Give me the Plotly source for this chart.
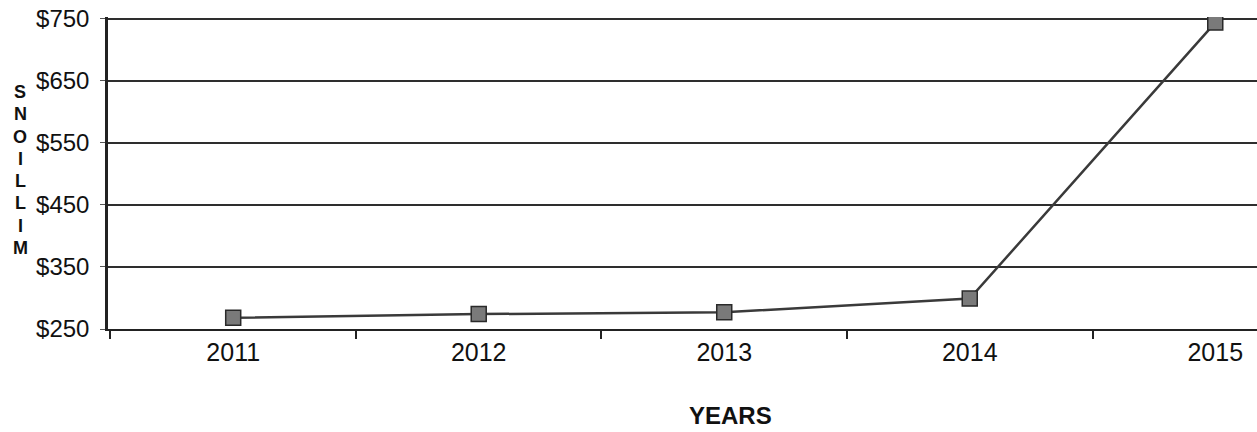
import plotly.graph_objects as go

years = ["2011", "2012", "2013", "2014", "2015"]
values = [268, 274, 277, 299, 744]
y_ticks = [250, 350, 450, 550, 650, 750]
y_tick_labels = ["$250", "$350", "$450", "$550", "$650", "$750"]
x_title = "YEARS"
y_title = "MILLIONS"

fig = go.Figure()
fig.add_trace(go.Scatter(
    x=years, y=values, mode="lines+markers",
    line=dict(color="#3a3a3a", width=2.5),
    marker=dict(symbol="square", size=15, color="#7a7a7a",
                line=dict(color="#2a2a2a", width=1.5)),
    showlegend=False,
))

font_family = "Liberation Sans, Arial, sans-serif"

fig.update_layout(
    width=1257, height=432,
    margin=dict(l=108, r=0, t=17, b=103),
    paper_bgcolor="white", plot_bgcolor="white",
    font=dict(family=font_family, color="#111"),
    xaxis=dict(
        type="category", range=[-0.51, 4.17],
        showgrid=False, showline=True, linecolor="#222", linewidth=2,
        ticks="outside", tickson="boundaries", ticklen=8, tickwidth=1.5,
        tickcolor="#222", tickfont=dict(size=25, color="#111"),
        zeroline=False,
    ),
    yaxis=dict(
        range=[250, 753], tickvals=y_ticks, ticktext=y_tick_labels,
        showgrid=True, gridcolor="#2e2e2e", gridwidth=2,
        showline=True, linecolor="#222", linewidth=2.5,
        ticks="outside", ticklen=5, tickcolor="#555",
        ticklabelstandoff=6,
        tickfont=dict(size=24, color="#111"),
        zeroline=False,
    ),
)

fig.add_annotation(
    text=f"<b>{x_title}</b>", xref="paper", yref="paper",
    x=(730 - 108) / 1149, y=0, yshift=-86, xanchor="center", yanchor="middle",
    showarrow=False, font=dict(size=24, color="#111", family=font_family),
)

# stacked vertical letters of the y-axis title, read bottom to top
n = len(y_title)
top_px, bottom_px = 92, 248
plot_top, plot_h = 17, 312
for i, ch in enumerate(reversed(y_title)):
    py = top_px + (bottom_px - top_px) * i / (n - 1)
    fig.add_annotation(
        text=f"<b>{ch}</b>", xref="paper", yref="paper",
        x=0, xshift=-88, y=1 - (py - plot_top) / plot_h,
        xanchor="center", yanchor="middle", showarrow=False,
        font=dict(size=18, color="#111", family=font_family),
    )

fig.write_html("out.html")
